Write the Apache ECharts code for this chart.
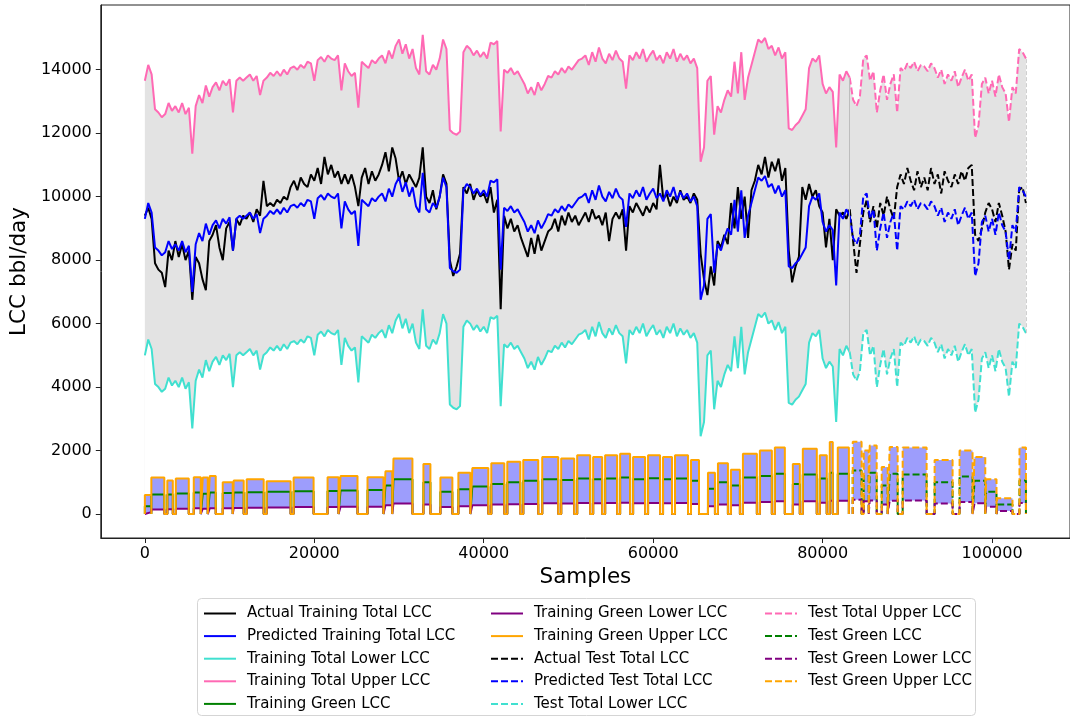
<!DOCTYPE html>
<html><head><meta charset="utf-8">
<script src="https://cdn.jsdelivr.net/npm/echarts@6/dist/echarts.min.js"></script>
<style>html,body{margin:0;padding:0;background:#fff}#c{width:1070px;height:717px}</style>
</head><body><div id="c"></div>
<script>
const SAMPLE_STEP = 400;
const SPLIT_INDEX = 208;
const xTicks = [0, 20000, 40000, 60000, 80000, 100000];
const yTicks = [0, 2000, 4000, 6000, 8000, 10000, 12000, 14000];

const actualTotal = [
 9400,9650,9300,7900,7700,7600,7150,8300,8000,8600,
 8100,8500,8000,8300,6750,8100,7900,7400,7050,8600,
 8800,9100,8400,8000,9000,9200,8300,9300,9100,9400,
 9300,9500,9200,9600,9400,10500,9700,9800,9700,9900,
 9800,10000,9900,10300,10500,10200,10600,10400,10300,10700,
 10500,10900,10400,11250,10700,11000,10600,10800,10400,10700,
 10400,10700,10300,9700,10600,10900,10400,10800,10500,10700,
 11000,11400,10800,11550,11200,10500,10800,10400,10700,10500,
 10300,10600,11550,10000,9800,10200,9600,10000,10700,10400,
 8000,7500,7800,8200,10300,10100,10400,9900,10200,10000,
 10100,9800,10300,9500,9900,6450,9400,9000,9300,8900,
 9100,8700,8400,8100,8700,8200,8800,8300,8600,8900,
 9000,9300,8900,9400,9100,9500,9200,9400,9100,9300,
 9500,9200,9600,9300,9400,9100,9500,8600,9300,9500,
 9300,9600,8300,9700,9500,9800,9600,9400,9700,9500,
 9800,9600,11000,9900,10100,9700,10000,9800,10200,9900,
 10000,9800,10100,9900,8200,7400,6900,7800,7200,8600,
 8400,8800,8500,9800,9000,10300,9300,10000,8700,10200,
 10500,11000,10700,11250,10600,11100,10800,11200,10500,10900,
 8300,7300,7800,8100,10300,9900,10400,10000,10200,9700,
 9500,8400,9300,8000,9600,9400,9500,9300,9600,8600,
 7600,8500,9500,9900,9200,9700,9000,9800,9400,10000,
 9600,9300,10300,10700,10400,10900,10500,10200,10800,10300,
 10600,10200,10900,10400,10700,10100,10800,10500,10300,10700,
 10400,10800,10500,10900,11000,8800,8600,9000,9500,9800,
 9600,9200,9800,9400,8900,7700,8500,8300,10200,10300,9800];
const predictedTotal = [
 9300,9800,9500,8400,8300,8150,8250,8600,8350,8500,
 8300,8600,8250,8450,7000,8500,8850,8600,9150,8800,
 9100,9250,9000,9300,9150,9350,8300,9300,9400,9300,
 9400,9500,9300,9450,8850,9300,9400,9550,9450,9600,
 9450,9650,9500,9700,9750,9650,9800,9700,9900,9850,
 9300,9950,10050,9900,10100,10000,9950,10100,9000,9850,
 9600,9450,9550,8450,9900,9800,9700,9950,9850,10000,
 10100,9850,10250,10000,10400,10600,10150,10450,10000,10300,
 9700,9500,10750,9600,9500,9800,9650,10000,10600,10300,
 7750,7650,7600,7700,10200,10400,10300,10100,10250,10050,
 10200,10000,10500,10450,10550,7700,9650,9550,9700,9500,
 9600,9400,9200,8900,9100,8850,9250,9000,9200,9450,
 9400,9600,9500,9700,9550,9750,9650,9800,9950,10000,
 10100,9800,10200,9900,10350,10000,9850,10150,9950,10250,
 10000,9900,9050,10100,9950,10200,10000,10300,9900,10100,
 10250,9950,10100,9850,10200,10000,10300,9900,10150,9950,
 10100,9850,10000,9700,6750,7200,9300,9450,7600,8500,
 8300,8700,9000,8800,9900,8900,10200,8700,9400,9800,
 10200,10600,10500,10650,10300,10400,10100,10350,10000,10200,
 7800,7750,7900,8000,8200,8400,9700,10000,9900,10100,
 9200,8900,9100,8950,7200,9500,9300,9600,9400,8700,
 8500,8800,10000,10100,9300,9600,8300,9000,9500,8700,
 9200,9500,8300,9700,9600,9850,9700,9900,9600,9800,
 9750,9600,9850,9700,9400,9650,9200,9500,9300,9600,
 9100,9400,9650,9300,9500,7500,7900,9200,9400,8900,
 9300,8800,9500,9100,8900,8000,9100,8900,10300,10200,10000];
const totalUpper = [
 13650,14150,13850,12750,12650,12500,12600,12950,12700,12850,
 12650,12950,12600,12800,11350,12850,13200,12950,13500,13150,
 13450,13600,13350,13650,13500,13700,12650,13650,13750,13650,
 13750,13850,13650,13800,13200,13650,13750,13900,13800,13950,
 13800,14000,13850,14050,14100,14000,14150,14050,14250,14200,
 13650,14300,14400,14250,14450,14350,14300,14450,13350,14200,
 13950,13800,13900,12800,14250,14150,14050,14300,14200,14350,
 14450,14200,14600,14350,14750,14950,14500,14800,14350,14650,
 14050,13850,15100,13950,13850,14150,14000,14350,14950,14650,
 12100,12000,11950,12050,14550,14750,14650,14450,14600,14400,
 14550,14350,14850,14800,14900,12050,14000,13900,14050,13850,
 13950,13750,13550,13250,13450,13200,13600,13350,13550,13800,
 13750,13950,13850,14050,13900,14100,14000,14150,14300,14350,
 14450,14150,14550,14250,14700,14350,14200,14500,14300,14600,
 14350,14250,13400,14450,14300,14550,14350,14650,14250,14450,
 14600,14300,14450,14200,14550,14350,14650,14250,14500,14300,
 14450,14200,14350,14050,11100,11550,13650,13800,11950,12850,
 12650,13050,13350,13150,14250,13250,14550,13050,13750,14150,
 14550,14950,14850,15000,14650,14750,14450,14700,14350,14550,
 12150,12100,12250,12350,12550,12750,14050,14350,14250,14450,
 13550,13250,13450,13300,11550,13850,13650,13950,13750,13050,
 12850,13150,14350,14450,13650,13950,12650,13350,13850,13050,
 13550,13850,12650,14050,13950,14200,14050,14250,13950,14150,
 14100,13950,14200,14050,13750,14000,13550,13850,13650,13950,
 13450,13750,14000,13650,13850,11850,12250,13550,13750,13250,
 13650,13150,13850,13450,13250,12350,13450,13250,14650,14550,14350];
const totalLower = [
 5000,5500,5200,4100,4000,3850,3950,4300,4050,4200,
 4000,4300,3950,4150,2700,4200,4550,4300,4850,4500,
 4800,4950,4700,5000,4850,5050,4000,5000,5100,5000,
 5100,5200,5000,5150,4550,5000,5100,5250,5150,5300,
 5150,5350,5200,5400,5450,5350,5500,5400,5600,5550,
 5000,5650,5750,5600,5800,5700,5650,5800,4700,5550,
 5300,5150,5250,4150,5600,5500,5400,5650,5550,5700,
 5800,5550,5950,5700,6100,6300,5850,6150,5700,6000,
 5400,5200,6450,5300,5200,5500,5350,5700,6300,6000,
 3450,3350,3300,3400,5900,6100,6000,5800,5950,5750,
 5900,5700,6200,6150,6250,3400,5350,5250,5400,5200,
 5300,5100,4900,4600,4800,4550,4950,4700,4900,5150,
 5100,5300,5200,5400,5250,5450,5350,5500,5650,5700,
 5800,5500,5900,5600,6050,5700,5550,5850,5650,5950,
 5700,5600,4750,5800,5650,5900,5700,6000,5600,5800,
 5950,5650,5800,5550,5900,5700,6000,5600,5850,5650,
 5800,5550,5700,5400,2450,2900,5000,5150,3300,4200,
 4000,4400,4700,4500,5600,4600,5900,4400,5100,5500,
 5900,6300,6200,6350,6000,6100,5800,6050,5700,5900,
 3500,3450,3600,3700,3900,4100,5400,5700,5600,5800,
 4900,4600,4800,4650,2900,5200,5000,5300,5100,4400,
 4200,4500,5700,5800,5000,5300,4000,4700,5200,4400,
 4900,5200,4000,5400,5300,5550,5400,5600,5300,5500,
 5450,5300,5550,5400,5100,5350,4900,5200,5000,5300,
 4800,5100,5350,5000,5200,3200,3600,4900,5100,4600,
 5000,4500,5200,4800,4600,3700,4800,4600,6000,5900,5700];
// green on-periods: [start sample, end sample, upper, green, lower]
const greenBlocks = [
 [0,766,600,250,60],[766,2298,1150,620,140],[2652,3300,1060,620,150],[3653,5185,1120,650,170],
 [5775,6600,1160,680,180],[6835,7425,1150,640,170],[7660,8367,1200,680,180],[9192,10371,1000,660,180],
 [10489,11667,1060,680,190],[12021,14024,1100,690,200],[14378,17206,1030,700,210],[17560,19917,1150,720,220],
 [21567,22863,1160,730,220],[23099,25102,1200,740,230],[26281,28166,1160,760,230],[28402,29200,1350,900,280],
 [29345,31584,1750,1100,330],[32880,33705,1580,1000,300],[34884,36298,1150,700,220],[37005,38419,1300,780,250],
 [38655,40540,1450,870,280],[40894,42426,1600,950,300],[42780,44312,1650,1000,310],[44665,46433,1700,1050,320],
 [46904,48790,1800,1100,340],[49143,50676,1750,1070,330],[51029,52561,1850,1120,350],[52915,53975,1800,1100,340],
 [54329,55743,1850,1120,350],[56097,57275,1900,1150,360],[57629,59043,1800,1100,340],[59396,60811,1850,1130,350],
 [61164,62225,1800,1100,340],[62579,64111,1850,1120,350],[64464,65407,1700,1050,320],[66467,67292,1300,800,250],
 [67646,68824,1600,1000,300],[69178,70239,1400,900,280],[70592,72242,1900,1150,360],[72596,74010,2000,1200,380],
 [74363,75542,2100,1270,400],[76485,77310,1580,950,300],[77664,79314,2060,1250,400],[79667,80492,1850,1120,360],
 [80846,81199,2270,1300,420],[81789,83100,2100,1270,420],
 [83556,84600,2280,1370,450],[84850,85441,2000,1200,400],[85559,86384,2160,1300,430],[86973,87680,1480,900,300],
 [87916,88859,2110,1270,420],[89448,92277,2100,1250,430],[93219,95341,1700,1000,330],[96166,97698,2000,1180,380],
 [97933,99200,1800,1050,340],[99300,100526,1100,700,230],[100600,102412,500,300,100],[103237,104000,2100,1060,350]
];

const samples = actualTotal.map((_, i) => i * SAMPLE_STEP);
const splitSample = samples[SPLIT_INDEX];
const lastIdx = samples.length - 1;
const pair = arr => arr.map((v, i) => [samples[i], v]);
const trainPart = arr => pair(arr).slice(0, SPLIT_INDEX + 1);
const testPart = arr => pair(arr).slice(SPLIT_INDEX);
function greenPts(k) {
  const pts = [];
  greenBlocks.forEach(b => { pts.push([b[0], 0], [b[0], b[k]], [b[1], b[k]], [b[1], 0]); });
  return pts;
}
const gTrain = k => greenPts(k).filter(p => p[0] <= splitSample);
const gTest = k => greenPts(k).filter(p => p[0] >= splitSample);

const FONT = 'DejaVu Sans';
const DASH = [7, 3];
function line(name, data, color, dashed) {
  return { name, type: 'line', data, symbol: 'none', showSymbol: false, animation: false,
    lineStyle: { color, width: 2, type: dashed ? DASH : 'solid' }, itemStyle: { color }, z: 3 };
}
function fill(data, color) {
  return { type: 'line', data, symbol: 'none', showSymbol: false, animation: false, silent: true,
    lineStyle: { width: 0 }, areaStyle: { color, opacity: 1, origin: 'auto' }, z: 2 };
}
const bandFill = fill(pair(totalUpper), '#e3e3e3');
bandFill.markLine = { silent: true, symbol: 'none', label: { show: false }, animation: false,
  data: [
    [{ coord: [splitSample, totalLower[SPLIT_INDEX]], lineStyle: { color: '#bdbdbd', width: 1, type: 'solid' } },
     { coord: [splitSample, totalUpper[SPLIT_INDEX]] }],
    [{ coord: [samples[lastIdx], totalLower[lastIdx]], lineStyle: { color: '#cfcfcf', width: 1, type: [4, 2] } },
     { coord: [samples[lastIdx], totalUpper[lastIdx]] }]
  ] };

const series = [
  bandFill,
  fill(pair(totalLower), '#ffffff'),
  fill(greenPts(2), '#9d9dfc'),
  fill(greenPts(4), '#ffffff'),
  line('Actual Training Total LCC', trainPart(actualTotal), '#000000', false),
  line('Predicted Training Total LCC', trainPart(predictedTotal), '#0000ff', false),
  line('Training Total Lower LCC', trainPart(totalLower), '#40e0d0', false),
  line('Training Total Upper LCC', trainPart(totalUpper), '#ff69b4', false),
  line('Training Green LCC', gTrain(3), '#008000', false),
  line('Training Green Lower LCC', gTrain(4), '#800080', false),
  line('Training Green Upper LCC', gTrain(2), '#ffa500', false),
  line('Actual Test Total LCC', testPart(actualTotal), '#000000', true),
  line('Predicted Test Total LCC', testPart(predictedTotal), '#0000ff', true),
  line('Test Total Lower LCC', testPart(totalLower), '#40e0d0', true),
  line('Test Total Upper LCC', testPart(totalUpper), '#ff69b4', true),
  line('Test Green LCC', gTest(3), '#008000', true),
  line('Test Green Lower LCC', gTest(4), '#800080', true),
  line('Test Green Upper LCC', gTest(2), '#ffa500', true)
];
const names = series.filter(s => s.name).map(s => s.name);
const legendBase = { orient: 'vertical', padding: 0, itemWidth: 32, itemHeight: 14, itemGap: 7.6,
  selectedMode: false, itemStyle: { opacity: 0 },
  textStyle: { fontSize: 15, fontFamily: FONT, color: '#000', padding: [0, 0, 0, 6] } };

const chart = echarts.init(document.getElementById('c'), null, { renderer: 'canvas' });
chart.setOption({
  animation: false,
  backgroundColor: '#ffffff',
  grid: { left: 100, top: 5, right: 0, bottom: 179, show: true, borderColor: '#222', borderWidth: 1, backgroundColor: 'transparent' },
  xAxis: {
    type: 'value', min: -5200, max: 109200,
    name: 'Samples', nameLocation: 'middle', nameGap: 27,
    nameTextStyle: { fontSize: 21.5, fontFamily: FONT, color: '#000' },
    axisLine: { show: true, onZero: false, lineStyle: { color: '#222' } },
    axisTick: { show: true, length: 5, customValues: xTicks, lineStyle: { color: '#222' } },
    axisLabel: { customValues: xTicks, fontSize: 16, fontFamily: FONT, color: '#000', margin: 8, formatter: v => String(v) },
    splitLine: { show: false }
  },
  yAxis: {
    type: 'value', min: -754, max: 16037,
    name: 'LCC bbl/day', nameLocation: 'middle', nameGap: 50, nameRotate: 90,
    nameTextStyle: { fontSize: 21.5, fontFamily: FONT, color: '#000' },
    axisLine: { show: true, onZero: false, lineStyle: { color: '#222' } },
    axisTick: { show: true, length: 5, customValues: yTicks, lineStyle: { color: '#222' } },
    axisLabel: { customValues: yTicks, fontSize: 16, fontFamily: FONT, color: '#000', margin: 9, formatter: v => String(v) },
    splitLine: { show: false }
  },
  legend: [
    Object.assign({}, legendBase, { left: 203, top: 606, data: names.slice(0, 5) }),
    Object.assign({}, legendBase, { left: 490, top: 606, data: names.slice(5, 10) }),
    Object.assign({}, legendBase, { left: 764, top: 606, data: names.slice(10) })
  ],
  graphic: [{ type: 'rect', left: 197, top: 598, z: -1, silent: true,
    shape: { width: 778, height: 117, r: 4 }, style: { fill: '#ffffff', stroke: '#d5d5d5', lineWidth: 1 } }],
  series
});
</script></body></html>
